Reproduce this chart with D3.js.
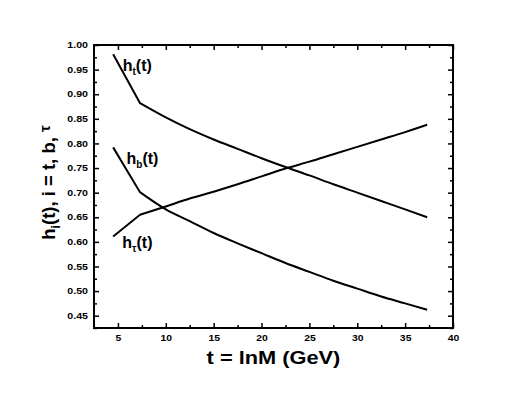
<!DOCTYPE html>
<html>
<head>
<meta charset="utf-8">
<script src="https://cdn.jsdelivr.net/npm/d3@7"></script>
<style>
  body { margin: 0; background: #fff; }
  text { font-family: "Liberation Sans", Arial, sans-serif; font-weight: bold; }
</style>
</head>
<body>
<script>
// t values (x) and the three curves
var tVals = [4.5, 7.3, 10, 12.5, 15, 17.5, 20, 22.5, 25, 27.5, 30, 32.5, 35, 37.3];
var hTop  = [0.981, 0.882, 0.853, 0.829, 0.808, 0.789, 0.770, 0.752, 0.735, 0.717, 0.700, 0.683, 0.666, 0.650];
var hBot  = [0.792, 0.701, 0.666, 0.642, 0.618, 0.597, 0.577, 0.557, 0.539, 0.521, 0.505, 0.489, 0.475, 0.462];
var hTau  = [0.611, 0.655, 0.672, 0.688, 0.702, 0.717, 0.733, 0.749, 0.763, 0.778, 0.793, 0.808, 0.823, 0.838];

var xTicks = [5, 10, 15, 20, 25, 30, 35, 40];
var yTicks = [0.45, 0.50, 0.55, 0.60, 0.65, 0.70, 0.75, 0.80, 0.85, 0.90, 0.95, 1.00];

// curve labels: [name, subscript, t, h]
var labels = [
  ["h", "t", 5.5, 0.947],
  ["h", "b", 5.9, 0.758],
  ["h", "\u03c4", 5.45, 0.587]
];

var margin = { top: 45, right: 73, bottom: 65, left: 94 },
  width = 526 - margin.left - margin.right,
  height = 393 - margin.top - margin.bottom;

var x = d3.scaleLinear().domain([2.5, 40]).range([0, width]);
var y = d3.scaleLinear().domain([0.425, 1.0]).range([height, 0]);

var svg = d3.select("body").append("svg")
  .attr("width", 526)
  .attr("height", 393)
  .append("g")
  .attr("transform", "translate(" + margin.left + "," + margin.top + ")");

var xMinor = d3.range(5, 40, 2.5).filter(function (d) { return d % 5 !== 0; });
var yMinor = d3.range(0.425, 1.0, 0.05);

// the original glyphs are a bit wider than Liberation Sans, stretch them
function stretch(sel, k) {
  sel.each(function () {
    var w = this.getComputedTextLength();
    d3.select(this).attr("textLength", w * k).attr("lengthAdjust", "spacingAndGlyphs");
  });
}

// axes with ticks pointing inward
function styleAxis(g) {
  g.select(".domain").remove();
  g.selectAll("line").attr("stroke", "#000").attr("stroke-width", 1.5);
}

svg.append("g")
  .attr("transform", "translate(0," + height + ")")
  .call(d3.axisBottom(x).tickValues(xTicks).tickSize(-5).tickPadding(7).tickFormat(d3.format("d")))
  .call(styleAxis)
  .selectAll("text").style("font-size", "8.5px").attr("fill", "#000").call(stretch, 1.22);

svg.append("g")
  .attr("transform", "translate(0," + height + ")")
  .call(d3.axisBottom(x).tickValues(xMinor).tickSize(-3).tickFormat(""))
  .call(styleAxis);

svg.append("g")
  .call(d3.axisTop(x).tickValues(xTicks).tickSize(-5).tickFormat(""))
  .call(styleAxis);
svg.append("g")
  .call(d3.axisTop(x).tickValues(xMinor).tickSize(-3).tickFormat(""))
  .call(styleAxis);

svg.append("g")
  .call(d3.axisLeft(y).tickValues(yTicks).tickSize(-5).tickPadding(6).tickFormat(d3.format(".2f")))
  .call(styleAxis)
  .selectAll("text").style("font-size", "8.5px").attr("fill", "#000").call(stretch, 1.25);
svg.append("g")
  .call(d3.axisLeft(y).tickValues(yMinor).tickSize(-3).tickFormat(""))
  .call(styleAxis);

svg.append("g")
  .attr("transform", "translate(" + width + ",0)")
  .call(d3.axisRight(y).tickValues(yTicks).tickSize(-5).tickFormat(""))
  .call(styleAxis);
svg.append("g")
  .attr("transform", "translate(" + width + ",0)")
  .call(d3.axisRight(y).tickValues(yMinor).tickSize(-3).tickFormat(""))
  .call(styleAxis);

// frame
svg.append("rect")
  .attr("width", width)
  .attr("height", height)
  .attr("fill", "none")
  .attr("stroke", "#000")
  .attr("stroke-width", 2);

// curves: straight piece up to the kink, smooth after it
var smooth = d3.line()
  .curve(d3.curveMonotoneX)
  .x(function (d) { return x(d[0]); })
  .y(function (d) { return y(d[1]); });

[hTop, hBot, hTau].forEach(function (s) {
  var pts = tVals.map(function (t, i) { return [t, s[i]]; });
  var d = "M" + x(pts[0][0]) + "," + y(pts[0][1]) + smooth(pts.slice(1)).replace(/^M/, "L");
  svg.append("path")
    .attr("fill", "none")
    .attr("stroke", "#000")
    .attr("stroke-width", 2)
    .attr("d", d);
});

// curve labels
labels.forEach(function (l) {
  var t = svg.append("text")
    .attr("x", x(l[2]))
    .attr("y", y(l[3]))
    .style("font-size", "16px");
  t.append("tspan").text(l[0]);
  t.append("tspan").attr("dy", 4).style("font-size", "10px").text(l[1]);
  t.append("tspan").attr("dy", -4).text("(t)");
});

// axis titles
svg.append("text")
  .attr("x", width / 2)
  .attr("y", height + 35.5)
  .attr("text-anchor", "middle")
  .style("font-size", "18px")
  .text("t = lnM (GeV)")
  .call(stretch, 1.21);

var yl = svg.append("text")
  .attr("transform", "translate(-39," + (height / 2 - 4) + ") rotate(-90)")
  .attr("text-anchor", "middle")
  .style("font-size", "18.5px");
yl.append("tspan").text("h");
yl.append("tspan").attr("dy", 5).style("font-size", "12px").text("i");
yl.append("tspan").attr("dy", -5).text("(t), i = t, b, ");
yl.append("tspan").attr("dy", -5).style("font-size", "15px").text("\u03c4");
</script>
</body>
</html>
